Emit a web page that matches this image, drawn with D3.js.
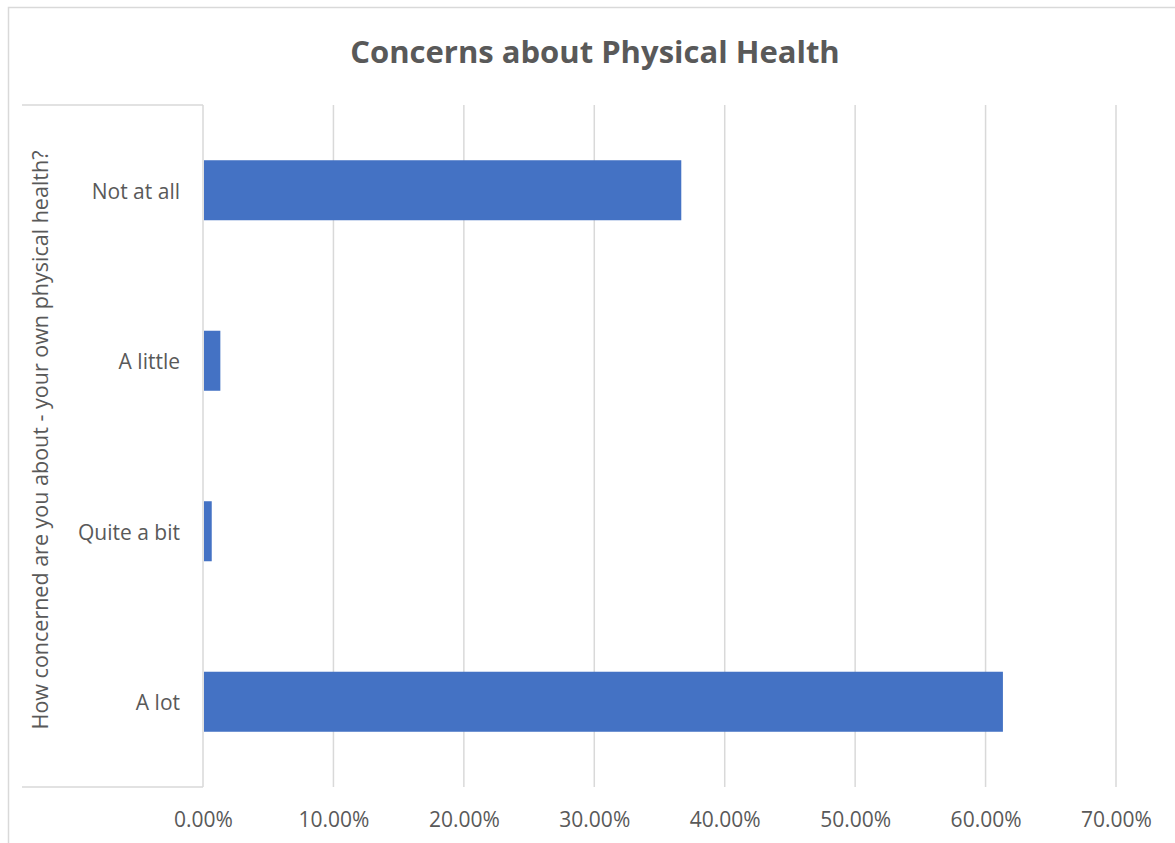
<!DOCTYPE html>
<html>
<head>
<meta charset="utf-8">
<script src="https://cdn.jsdelivr.net/npm/d3@7"></script>
<style>
  html, body { margin: 0; padding: 0; background: #fff; }
  svg { display: block; }
  text { font-family: "Open Sans", "Liberation Sans", sans-serif; fill: #595959; }
</style>
</head>
<body>
<svg id="chart" width="1175" height="843"></svg>
<script>
// Responses to: How concerned are you about - your own physical health?
const categories = ["Not at all", "A little", "Quite a bit", "A lot"];
const shares = [0.3667, 0.0133, 0.0067, 0.6133];
const tickValues = [0, 0.1, 0.2, 0.3, 0.4, 0.5, 0.6, 0.7];

const chartTitle = "Concerns about Physical Health";
const axisTitle = "How concerned are you about - your own physical health?";

const svg = d3.select("#chart");
const W = 1175, H = 843;
const plot = { left: 203, right: 1116, top: 105, bottom: 787 };

// chart area frame
svg.append("rect")
  .attr("x", 8.5).attr("y", 7.5)
  .attr("width", W + 20).attr("height", H + 20)
  .attr("fill", "#fff").attr("stroke", "#d9d9d9").attr("stroke-width", 1.5);

const x = d3.scaleLinear().domain([0, 0.7]).range([plot.left, plot.right]);
const y = d3.scaleBand().domain(categories).range([plot.top, plot.bottom]).paddingInner(0.648).paddingOuter(0.324);

// vertical gridlines
svg.append("g")
  .selectAll("line")
  .data(tickValues)
  .join("line")
  .attr("x1", d => x(d)).attr("x2", d => x(d))
  .attr("y1", plot.top).attr("y2", plot.bottom)
  .attr("stroke", "#d9d9d9").attr("stroke-width", 1.5);

// category-axis bracket lines
[plot.top, plot.bottom].forEach(yy => {
  svg.append("line")
    .attr("x1", 22).attr("x2", plot.left)
    .attr("y1", yy).attr("y2", yy)
    .attr("stroke", "#d9d9d9").attr("stroke-width", 1.5);
});

// bars
svg.append("g")
  .selectAll("rect")
  .data(categories)
  .join("rect")
  .attr("x", x(0) + 1)
  .attr("y", d => y(d))
  .attr("width", (d, i) => x(shares[i]) - x(0) - 1)
  .attr("height", y.bandwidth())
  .attr("fill", "#4472c4");

// x axis tick labels
const xAxis = d3.axisBottom(x)
  .tickValues(tickValues)
  .tickSize(0)
  .tickPadding(0)
  .tickFormat(d => (d * 100).toFixed(2) + "%");
const gx = svg.append("g")
  .attr("transform", `translate(0, ${plot.bottom + 25})`)
  .call(xAxis);
gx.select(".domain").remove();
gx.selectAll("text")
  .attr("dy", "0.71em")
  .style("font-size", "21px")
  .attr("fill", "#595959");

// category labels
const yAxis = d3.axisLeft(y).tickSize(0).tickPadding(0);
const gy = svg.append("g")
  .attr("transform", `translate(180, 2)`)
  .call(yAxis);
gy.select(".domain").remove();
gy.selectAll("text")
  .style("font-size", "21px")
  .attr("fill", "#595959");

// axis title
svg.append("text")
  .attr("transform", `translate(48, ${(plot.top + plot.bottom) / 2 - 6}) rotate(-90)`)
  .attr("text-anchor", "middle")
  .style("font-size", "21.5px")
  .text(axisTitle);

// chart title
svg.append("text")
  .attr("x", 595).attr("y", 63)
  .attr("text-anchor", "middle")
  .style("font-size", "31px")
  .style("font-weight", "bold")
  .text(chartTitle);
</script>
</body>
</html>
